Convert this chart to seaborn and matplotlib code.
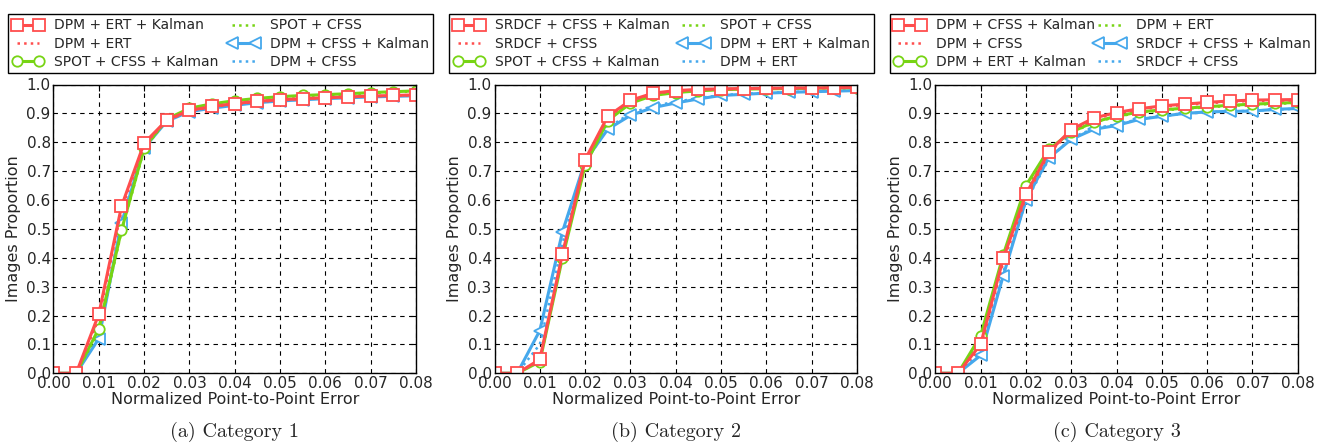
import numpy as np
import pandas as pd
import matplotlib
matplotlib.use('Agg')
import matplotlib.pyplot as plt
import seaborn as sns

# x positions (normalized point-to-point error)
err = [0.0, 0.005, 0.01, 0.015, 0.02, 0.025, 0.03, 0.035, 0.04,
       0.045, 0.05, 0.055, 0.06, 0.065, 0.07, 0.075, 0.08]

# Category 1
c1_labels = ['DPM + ERT + Kalman', 'DPM + ERT', 'SPOT + CFSS + Kalman',
             'SPOT + CFSS', 'DPM + CFSS + Kalman', 'DPM + CFSS']
c1_red_k = [0, 0, 0.205, 0.578, 0.797, 0.877, 0.91, 0.924, 0.934, 0.942, 0.947, 0.951, 0.954, 0.957, 0.96, 0.962, 0.964]
c1_red = [0, 0, 0.19, 0.565, 0.79, 0.875, 0.908, 0.922, 0.932, 0.94, 0.945, 0.95, 0.953, 0.956, 0.959, 0.961, 0.963]
c1_green_k = [0, 0, 0.155, 0.495, 0.78, 0.88, 0.918, 0.933, 0.944, 0.952, 0.958, 0.962, 0.965, 0.968, 0.972, 0.975, 0.978]
c1_green = [0, 0, 0.145, 0.49, 0.776, 0.878, 0.916, 0.931, 0.942, 0.95, 0.956, 0.96, 0.963, 0.966, 0.97, 0.973, 0.976]
c1_blue_k = [0, 0, 0.12, 0.52, 0.78, 0.873, 0.906, 0.918, 0.928, 0.937, 0.943, 0.947, 0.951, 0.954, 0.957, 0.959, 0.961]
c1_blue = [0, 0, 0.13, 0.53, 0.783, 0.875, 0.908, 0.92, 0.93, 0.939, 0.945, 0.949, 0.953, 0.956, 0.959, 0.961, 0.963]

# Category 2
c2_labels = ['SRDCF + CFSS + Kalman', 'SRDCF + CFSS', 'SPOT + CFSS + Kalman',
             'SPOT + CFSS', 'DPM + ERT + Kalman', 'DPM + ERT']
c2_red_k = [0, 0, 0.048, 0.414, 0.74, 0.89, 0.945, 0.97, 0.979, 0.983, 0.985, 0.986, 0.987, 0.988, 0.988, 0.989, 0.99]
c2_red = [0, 0, 0.045, 0.41, 0.737, 0.887, 0.943, 0.968, 0.977, 0.981, 0.983, 0.985, 0.986, 0.987, 0.987, 0.988, 0.989]
c2_green_k = [0, 0, 0.04, 0.40, 0.72, 0.875, 0.935, 0.962, 0.972, 0.978, 0.982, 0.984, 0.985, 0.986, 0.987, 0.988, 0.989]
c2_green = [0, 0, 0.042, 0.405, 0.725, 0.878, 0.937, 0.964, 0.974, 0.98, 0.983, 0.985, 0.986, 0.987, 0.988, 0.988, 0.989]
c2_blue_k = [0, 0, 0.148, 0.49, 0.735, 0.845, 0.893, 0.92, 0.936, 0.95, 0.962, 0.966, 0.97, 0.973, 0.975, 0.977, 0.979]
c2_blue = [0, 0, 0.10, 0.45, 0.73, 0.85, 0.9, 0.926, 0.94, 0.953, 0.963, 0.968, 0.971, 0.974, 0.976, 0.978, 0.98]

# Category 3
c3_labels = ['DPM + CFSS + Kalman', 'DPM + CFSS', 'DPM + ERT + Kalman',
             'DPM + ERT', 'SRDCF + CFSS + Kalman', 'SRDCF + CFSS']
c3_red_k = [0, 0, 0.10, 0.398, 0.62, 0.765, 0.844, 0.884, 0.903, 0.916, 0.926, 0.932, 0.938, 0.943, 0.946, 0.947, 0.948]
c3_red = [0, 0, 0.09, 0.385, 0.61, 0.76, 0.84, 0.88, 0.9, 0.913, 0.923, 0.929, 0.935, 0.94, 0.943, 0.944, 0.945]
c3_green_k = [0, 0, 0.13, 0.41, 0.65, 0.775, 0.835, 0.87, 0.89, 0.905, 0.912, 0.918, 0.923, 0.928, 0.932, 0.935, 0.938]
c3_green = [0, 0, 0.12, 0.405, 0.64, 0.77, 0.833, 0.868, 0.888, 0.903, 0.91, 0.916, 0.921, 0.926, 0.93, 0.933, 0.936]
c3_blue_k = [0, 0, 0.062, 0.338, 0.60, 0.745, 0.81, 0.845, 0.858, 0.879, 0.89, 0.9, 0.905, 0.907, 0.908, 0.914, 0.917]
c3_blue = [0, 0, 0.07, 0.35, 0.595, 0.74, 0.815, 0.848, 0.862, 0.88, 0.89, 0.899, 0.904, 0.907, 0.909, 0.913, 0.916]

captions = ['(a) Category 1', '(b) Category 2', '(c) Category 3']

red = '#ff4d4d'
green = '#77d414'
blue = '#45a8ec'

sns.set_style('white')
plt.rcParams['font.family'] = ['DejaVu Sans']

fig = plt.figure(figsize=(13.25, 4.46), dpi=100)
lefts = [53.5 / 1325, 494.5 / 1325, 935.3 / 1325]
width = 362.5 / 1325
bottom = 1 - 373.3 / 446
height = 288.8 / 446

panels = [
    (c1_labels, [c1_red_k, c1_red, c1_green_k, c1_green, c1_blue_k, c1_blue]),
    (c2_labels, [c2_red_k, c2_red, c2_green_k, c2_green, c2_blue_k, c2_blue]),
    (c3_labels, [c3_red_k, c3_red, c3_green_k, c3_green, c3_blue_k, c3_blue]),
]

styles = [
    dict(color=red, marker='s', markersize=8, markerfacecolor='white',
         markeredgecolor=red, markeredgewidth=1.3, linewidth=2.2, linestyle='-'),
    dict(color=red, linewidth=1.8, linestyle=':'),
    dict(color=green, marker='o', markersize=7.5, markerfacecolor='white',
         markeredgecolor=green, markeredgewidth=1.3, linewidth=2.2, linestyle='-'),
    dict(color=green, linewidth=1.8, linestyle=':'),
    dict(color=blue, marker='<', markersize=8.5, markerfacecolor='white',
         markeredgecolor=blue, markeredgewidth=1.3, linewidth=2.2, linestyle='-'),
    dict(color=blue, linewidth=1.8, linestyle=':'),
]
# drawing order: blue first, red on top
order = [5, 4, 3, 2, 1, 0]

for i, (labels, series) in enumerate(panels):
    ax = fig.add_axes([lefts[i], bottom, width, height])
    lines = {}
    for k in order:
        df = pd.DataFrame({'err': err, 'prop': series[k]})
        sns.lineplot(data=df, x='err', y='prop', ax=ax, label=labels[k],
                     estimator=None, sort=False, **styles[k])
        lines[k] = ax.get_lines()[-1]
    ax.set_xlim(0, 0.08)
    ax.set_ylim(0, 1.0)
    ax.set_xticks(np.arange(0, 0.081, 0.01))
    ax.set_xticklabels(['%.2f' % t for t in np.arange(0, 0.081, 0.01)])
    ax.set_yticks(np.arange(0, 1.01, 0.1))
    ax.set_yticklabels(['%.1f' % t for t in np.arange(0, 1.01, 0.1)])
    ax.tick_params(direction='in', top=True, right=True, labelsize=11,
                   length=4, width=0.8, pad=2, color='black')
    ax.grid(True, color='black', linestyle='--', linewidth=0.8, dashes=(4, 4))
    for s in ax.spines.values():
        s.set_color('black')
        s.set_linewidth(1.0)
    ax.set_xlabel('Normalized Point-to-Point Error', fontsize=11.5, labelpad=1)
    ax.set_ylabel('Images Proportion', fontsize=11.5, labelpad=4)
    ax.get_legend().remove()
    handles = [lines[k] for k in range(6)]
    leg = ax.legend(handles, [labels[k] for k in range(6)], ncol=2,
                    loc='lower left', bbox_to_anchor=(-0.125, 1.04, 1.172, 0.22),
                    mode='expand', fontsize=10, numpoints=2, handlelength=2.2,
                    handletextpad=0.8, labelspacing=0.3, borderpad=0.3,
                    columnspacing=1.0, fancybox=False, framealpha=1,
                    borderaxespad=0.0)
    leg.get_frame().set_edgecolor('black')
    leg.get_frame().set_linewidth(1.0)
    fig.text(lefts[i] + width / 2, 1 - 432 / 446, captions[i],
             ha='center', va='center', fontsize=14.5, family='cmr10')

fig.savefig('out.png', dpi=100)
